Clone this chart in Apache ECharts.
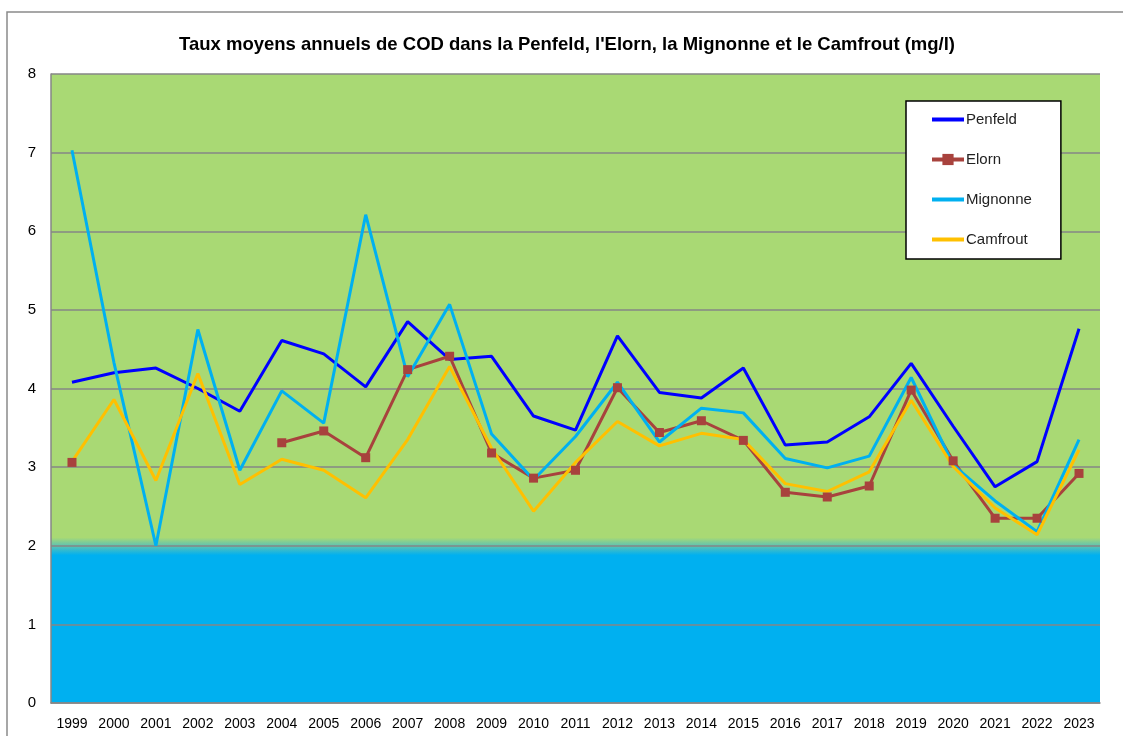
<!DOCTYPE html>
<html>
<head>
<meta charset="utf-8">
<script src="https://cdn.jsdelivr.net/npm/echarts@6/dist/echarts.min.js"></script>
<style>
  html, body { margin: 0; padding: 0; background: #fff; }
  #chart { width: 1123px; height: 736px; }
</style>
</head>
<body>
<div id="chart"></div>
<script>
const years = ["1999", "2000", "2001", "2002", "2003", "2004", "2005", "2006", "2007", "2008", "2009", "2010", "2011",
  "2012", "2013", "2014", "2015", "2016", "2017", "2018", "2019", "2020", "2021", "2022", "2023"]

const penfeld = [4.08, 4.20, 4.26, 4.00, 3.71, 4.61, 4.44, 4.02, 4.85, 4.37, 4.41, 3.65, 3.47,
  4.67, 3.95, 3.88, 4.26, 3.28, 3.32, 3.64, 4.32, 3.52, 2.75, 3.07, 4.76]
const elorn = [3.06, null, null, null, null, 3.31, 3.46, 3.12, 4.24, 4.41, 3.18, 2.86, 2.96,
  4.01, 3.44, 3.59, 3.34, 2.68, 2.62, 2.76, 3.98, 3.08, 2.35, 2.35, 2.92]
const mignonne = [7.03, 4.33, 2.00, 4.75, 2.96, 3.97, 3.56, 6.21, 4.15, 5.07, 3.42, 2.84, 3.39,
  4.08, 3.32, 3.75, 3.69, 3.11, 2.99, 3.14, 4.14, 3.03, 2.57, 2.18, 3.35]
const camfrout = [3.07, 3.86, 2.83, 4.19, 2.78, 3.10, 2.96, 2.61, 3.35, 4.28, 3.24, 2.44, 3.06,
  3.58, 3.27, 3.43, 3.35, 2.79, 2.69, 2.94, 3.85, 3.01, 2.48, 2.14, 3.22]

const seriesNames = ["Penfeld", "Elorn", "Mignonne", "Camfrout"]
const seriesData = [penfeld, elorn, mignonne, camfrout]
const colors = ["#0000FF", "#A8423D", "#00B0F0", "#FFC000"]

const font = "'Liberation Sans', Arial, sans-serif"
const chart = echarts.init(document.getElementById("chart"))

const series = seriesNames.map((name, i) => ({
  name: name,
  type: "line",
  data: seriesData[i],
  symbol: name == "Elorn" ? "rect" : "none",
  symbolSize: 9,
  showSymbol: name == "Elorn",
  lineStyle: { width: 3, color: colors[i] },
  itemStyle: { color: colors[i] },
  emphasis: { disabled: true },
}))

// only Elorn keeps its marker in the legend
const legendData = seriesNames.map((name, i) => ({
  name: name,
  itemStyle: name == "Elorn" ? { color: colors[i] } : { opacity: 0 },
  lineStyle: { width: 4, color: colors[i] },
}))

const option = {
  animation: false,
  color: colors,
  title: {
    text: "Taux moyens annuels de COD dans la Penfeld, l'Elorn, la Mignonne et le Camfrout (mg/l)",
    left: 174,
    top: 30,
    textStyle: { fontFamily: font, fontSize: 18.5, fontWeight: "bold", color: "#000" },
  },
  graphic: [
    {
      type: "rect",
      shape: { x: 7, y: 12, width: 1140, height: 760 },
      style: { fill: null, stroke: "#8a8a8a", lineWidth: 1.5 },
      silent: true,
    },
  ],
  legend: {
    orient: "vertical",
    left: 906,
    top: 101,
    padding: [11, 29, 12, 24],
    itemGap: 25,
    itemWidth: 32,
    itemHeight: 14,
    backgroundColor: "#fff",
    borderColor: "#000",
    borderWidth: 1.5,
    borderRadius: 0,
    textStyle: { fontFamily: font, fontSize: 15, color: "#222", padding: [0, 0, 0, -3] },
    data: legendData,
  },
  grid: {
    left: 51,
    right: 23,
    top: 74,
    bottom: 33,
    show: true,
    borderWidth: 0,
    backgroundColor: new echarts.graphic.LinearGradient(0, 0, 0, 1, [
      { offset: 0, color: "#A9D974" },
      { offset: 0.737, color: "#A9D974" },
      { offset: 0.75, color: "#5EC3B2" },
      { offset: 0.765, color: "#00B0F0" },
      { offset: 1, color: "#00B0F0" },
    ]),
  },
  xAxis: {
    type: "category",
    data: years,
    boundaryGap: true,
    axisLine: { show: true, lineStyle: { color: "#868686", width: 1.5 } },
    axisTick: { show: false },
    axisLabel: { color: "#000", fontFamily: font, fontSize: 14, margin: 14, interval: 0 },
  },
  yAxis: {
    type: "value",
    min: 0,
    max: 8,
    interval: 1,
    axisLine: { show: true, lineStyle: { color: "#868686", width: 1.5 } },
    axisTick: { show: false },
    splitLine: { show: true, lineStyle: { color: "#868686", width: 1.5 } },
    axisLabel: { color: "#000", fontFamily: font, fontSize: 15, margin: 15 },
  },
  series: series,
}

chart.setOption(option)
</script>
</body>
</html>
